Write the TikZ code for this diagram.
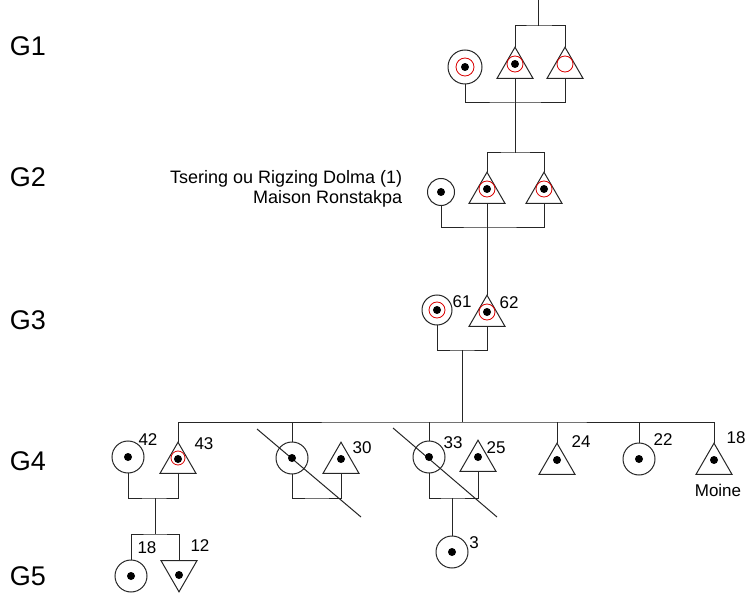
\documentclass[tikz,border=0pt]{standalone}
\usepackage{fontspec}
\setmainfont{Liberation Sans}
\usetikzlibrary{shapes.geometric}

\begin{document}
\begin{tikzpicture}[x=1pt,y=-1pt,line width=1pt,draw=black!85,
  fem/.style={circle,draw,inner sep=0pt,outer sep=0pt,minimum size=32pt},
  masc/.style={regular polygon,regular polygon sides=3,draw,inner sep=0pt,outer sep=0pt,minimum size=41.6pt},
  gen/.style={font=\fontsize{27}{30}\selectfont},
  age/.style={font=\fontsize{17}{19}\selectfont},
  ring/.style={draw=red!85!black,line width=0.8pt}]
\useasboundingbox (0,0) rectangle (747,596);

% generation labels
\node[gen] (g1) at (28,46) {G1};
\node[gen] (g2) at (28,177) {G2};
\node[gen] (g3) at (28,320) {G3};
\node[gen] (g4) at (28,461) {G4};
\node[gen] (g5) at (28,576) {G5};

% G1
\coordinate (top) at (538,0);
\coordinate (s1) at (538,26);
\coordinate (m1) at (515,103);
\node[fem,minimum size=34pt] (c1a) at (465,67) {};
\node[masc] (t1a) at (515,68) {};
\node[masc] (t1b) at (565,68) {};
\draw (top) -- (s1);
\draw (t1a.north) |- (s1) -| (t1b.north);
\draw (c1a.south) |- (m1) -| (t1b.south);

% G2
\coordinate (s2) at (515,153);
\coordinate (m2) at (487,228);
\node[fem,minimum size=27pt] (c2a) at (441,192) {};
\node[masc] (t2a) at (487,193) {};
\node[masc] (t2b) at (544,193) {};
\node[anchor=east,align=right,font=\fontsize{18}{19.5}\selectfont] (maison) at (406,189)
  {Tsering ou Rigzing Dolma (1)\\Maison Ronstakpa};
\draw (t1a.south) -- (s2);
\draw (t2a.north) |- (s2) -| (t2b.north);
\draw (c2a.south) |- (m2) -| (t2b.south);

% G3
\coordinate (m3) at (462,350);
\node[fem,minimum size=30pt] (c61) at (437,310) {};
\node[masc] (t62) at (487,316) {};
\node[age] (l61) at (462,302) {61};
\node[age] (l62) at (509,303) {62};
\draw (t2a.south) -- (t62.north);
\draw (c61.south) |- (m3) -| (t62.south);

% G4
\coordinate (s4) at (462,422);
\coordinate (m4a) at (155,498);
\coordinate (m4b) at (317,498);
\coordinate (m4c) at (452,498);
\node[fem] (c42) at (128,457) {};
\node[masc] (t43) at (178,463) {};
\node[fem] (c4b) at (292,458) {};
\node[masc] (t30) at (341,463) {};
\node[fem] (c33) at (429,457) {};
\node[masc] (t25) at (478,461) {};
\node[masc] (t24) at (557,464) {};
\node[fem] (c22) at (639,459) {};
\node[masc] (t18) at (714,464) {};
\node[age] (l42) at (148,440) {42};
\node[age] (l43) at (204,444) {43};
\node[age] (l30) at (362,448) {30};
\node[age] (l33) at (453,443) {33};
\node[age] (l25) at (496,448) {25};
\node[age] (l24) at (581,442) {24};
\node[age] (l22) at (663,440) {22};
\node[age] (l18) at (736,438) {18};
\node[age] (moine) at (718,490) {Moine};
\draw (m3) -- (s4);
\draw (t43.north) |- (s4) -| (t18.north);
\foreach \n in {c4b,c33,t24,c22}
  \draw (\n.north) -- (\n.north |- s4);
\draw (c42.south) |- (m4a) -| (t43.south);
\draw (c4b.south) |- (m4b) -| (t30.south);
\draw (c33.south) |- (m4c) -| (t25.south);
% divorces
\draw (257,429) -- (361,517);
\draw (393,428) -- (497,517);

% G5
\coordinate (s5) at (155,534);
\node[fem] (c18) at (131,576) {};
\node[masc,shape border rotate=180] (t12) at (179,571) {};
\node[fem] (c3) at (452,552) {};
\node[age] (l18b) at (147,548) {18};
\node[age] (l12) at (200,546) {12};
\node[age] (l3) at (474,543) {3};
\draw (m4a) -- (s5);
\draw (c18.north) |- (s5) -| (t12.north);
\draw (m4c) -- (c3.north);

% dots and red rings
\foreach \n in {c1a,c2a,c61,c42,c4b,c33,c22,c3,c18}
  \fill[black] (\n) circle (4pt);
\foreach \n in {t1a,t2a,t2b,t62,t43,t30,t25,t24,t18}
  \fill[black] (\n) ++(0,-4) circle (4pt);
\fill[black] (t12) ++(0,4) circle (4pt);
\draw[ring] (c1a) circle (9pt);
\draw[ring] (c61) circle (8pt);
\foreach \n in {t1a,t1b,t2a,t2b,t62}
  \draw[ring] (\n) ++(0,-4) circle (8pt);
\draw[ring] (t43) ++(0,-5) circle (7pt);
\end{tikzpicture}
\end{document}
